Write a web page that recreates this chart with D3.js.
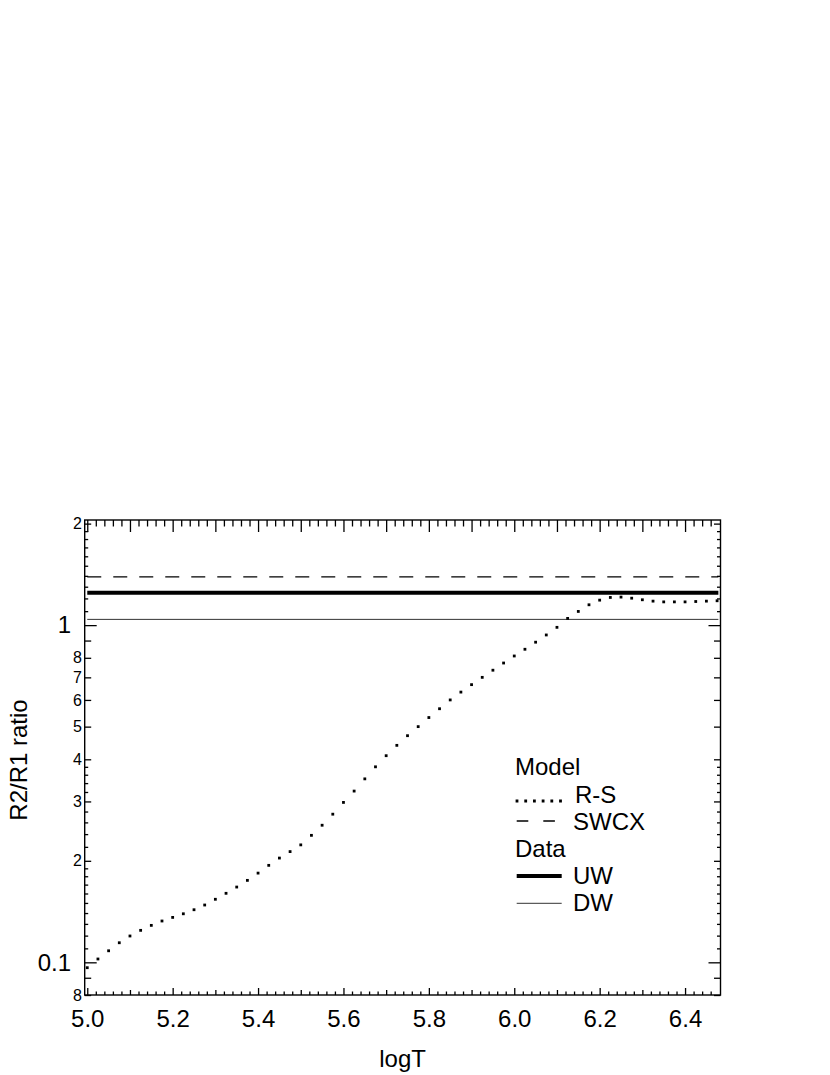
<!DOCTYPE html>
<html>
<head>
<meta charset="utf-8">
<script src="https://cdn.jsdelivr.net/npm/d3@7"></script>
<style>
  html, body { margin: 0; padding: 0; background: #fff; }
  svg { display: block; font-family: "Liberation Sans", Arial, Helvetica, sans-serif; }
</style>
</head>
<body>
<svg id="chart" width="830" height="1075"></svg>
<script>
// ---------------- data ----------------
const logT = [5.000, 5.025, 5.050, 5.075, 5.100, 5.125, 5.150, 5.175, 5.200, 5.225,
              5.250, 5.275, 5.300, 5.325, 5.350, 5.375, 5.400, 5.425, 5.450, 5.475,
              5.500, 5.525, 5.550, 5.575, 5.600, 5.625, 5.650, 5.675, 5.700, 5.725,
              5.750, 5.775, 5.800, 5.825, 5.850, 5.875, 5.900, 5.925, 5.950, 5.975,
              6.000, 6.025, 6.050, 6.075, 6.100, 6.125, 6.150, 6.175, 6.200, 6.225,
              6.250, 6.275, 6.300, 6.325, 6.350, 6.375, 6.400, 6.425, 6.450, 6.475];
const rsRatio = [0.0964, 0.1023, 0.1082, 0.1143, 0.1197, 0.1244, 0.1287, 0.1326, 0.1359, 0.1393,
                 0.1432, 0.1479, 0.1538, 0.1602, 0.1672, 0.1750, 0.1839, 0.1939, 0.2038, 0.213,
                 0.223, 0.238, 0.255, 0.275, 0.298, 0.322, 0.350, 0.380, 0.410, 0.440,
                 0.470, 0.500, 0.532, 0.565, 0.600, 0.633, 0.666, 0.700, 0.735, 0.772,
                 0.810, 0.848, 0.890, 0.935, 0.985, 1.047, 1.098, 1.149, 1.186, 1.208,
                 1.211, 1.202, 1.189, 1.178, 1.172, 1.172, 1.172, 1.175, 1.178, 1.181];
const swcxRatio = 1.39;   // Model SWCX (constant)
const uwRatio = 1.247;    // Data UW
const dwRatio = 1.04;     // Data DW
const lineSpan = [5.0, 6.478];

const xMajorTicks = [5.0, 5.2, 5.4, 5.6, 5.8, 6.0, 6.2, 6.4];
const xMajorLabels = ["5.0", "5.2", "5.4", "5.6", "5.8", "6.0", "6.2", "6.4"];
const xMidTicks = [5.1, 5.3, 5.5, 5.7, 5.9, 6.1, 6.3];
const xMinorTicks = [5.02, 5.04, 5.06, 5.08, 5.12, 5.14, 5.16, 5.18, 5.22, 5.24, 5.26, 5.28,
                     5.32, 5.34, 5.36, 5.38, 5.42, 5.44, 5.46, 5.48, 5.52, 5.54, 5.56, 5.58,
                     5.62, 5.64, 5.66, 5.68, 5.72, 5.74, 5.76, 5.78, 5.82, 5.84, 5.86, 5.88,
                     5.92, 5.94, 5.96, 5.98, 6.02, 6.04, 6.06, 6.08, 6.12, 6.14, 6.16, 6.18,
                     6.22, 6.24, 6.26, 6.28, 6.32, 6.34, 6.36, 6.38, 6.42, 6.44, 6.46];

const yBigTicks = [0.1, 1];
const yBigLabels = ["0.1", "1"];
const ySmallTicks = [0.08, 0.2, 0.3, 0.4, 0.5, 0.6, 0.7, 0.8, 2];
const ySmallLabels = ["8", "2", "3", "4", "5", "6", "7", "8", "2"];
const yMidTicks = [0.09, 0.9];
const yMinorTicks = [0.11, 0.12, 0.13, 0.14, 0.15, 0.16, 0.17, 0.18, 0.19,
                     0.22, 0.24, 0.26, 0.28, 0.32, 0.34, 0.36, 0.38,
                     1.1, 1.2, 1.3, 1.4, 1.5, 1.6, 1.7, 1.8, 1.9];

const legendHeaders = ["Model", "Data"];
const legendLabels = ["R-S", "SWCX", "UW", "DW"];

// ---------------- chart ----------------
const svg = d3.select("#chart");
const L = 84.7, R = 720.5, T = 520, B = 995;
const x = d3.scaleLinear().domain([4.994, 6.483]).range([L, R]);
const y = d3.scaleLog().domain([0.08, 2.05]).range([B, T]);

function addAxis(gen, tx, ty, fontSize) {
  const g = svg.append("g").attr("transform", `translate(${tx},${ty})`).call(gen);
  g.select(".domain").remove();
  g.selectAll(".tick line").attr("stroke", "#000").attr("stroke-width", 1.3);
  g.selectAll("text").attr("fill", "#000").attr("font-size", fontSize || 16)
    .attr("font-family", "Liberation Sans, Arial, sans-serif");
  return g;
}

// bottom axis (ticks pointing up)
addAxis(d3.axisBottom(x).tickValues(xMinorTicks).tickSizeInner(-3.5).tickSizeOuter(0).tickFormat(""), 0, B);
addAxis(d3.axisBottom(x).tickValues(xMidTicks).tickSizeInner(-5).tickSizeOuter(0).tickFormat(""), 0, B);
addAxis(d3.axisBottom(x).tickValues(xMajorTicks).tickSizeInner(-7).tickSizeOuter(0).tickPadding(15)
  .tickFormat((d, i) => xMajorLabels[i]), 0, B, 24);
// top axis (ticks pointing down)
addAxis(d3.axisTop(x).tickValues(xMinorTicks).tickSizeInner(-6.5).tickSizeOuter(0).tickFormat(""), 0, T);
addAxis(d3.axisTop(x).tickValues(xMidTicks.concat(xMajorTicks)).tickSizeInner(-12).tickSizeOuter(0).tickFormat(""), 0, T);

// left axis (ticks pointing right)
addAxis(d3.axisLeft(y).tickValues(yMinorTicks).tickSizeInner(-3.5).tickSizeOuter(0).tickFormat(""), L, 0);
addAxis(d3.axisLeft(y).tickValues(yMidTicks).tickSizeInner(-6.5).tickSizeOuter(0).tickFormat(""), L, 0);
addAxis(d3.axisLeft(y).tickValues(ySmallTicks).tickSizeInner(-6.5).tickSizeOuter(0).tickPadding(2.7)
  .tickFormat((d, i) => ySmallLabels[i]), L, 0, 16);
addAxis(d3.axisLeft(y).tickValues(yBigTicks).tickSizeInner(-12).tickSizeOuter(0).tickPadding(13.7)
  .tickFormat((d, i) => yBigLabels[i]), L, 0, 24);
// right axis (ticks pointing left)
addAxis(d3.axisRight(y).tickValues(yMinorTicks).tickSizeInner(-3.5).tickSizeOuter(0).tickFormat(""), R, 0);
addAxis(d3.axisRight(y).tickValues(yMidTicks.concat(ySmallTicks)).tickSizeInner(-6.5).tickSizeOuter(0).tickFormat(""), R, 0);
addAxis(d3.axisRight(y).tickValues(yBigTicks).tickSizeInner(-12).tickSizeOuter(0).tickFormat(""), R, 0);

// frame
svg.append("rect").attr("x", L).attr("y", T).attr("width", R - L).attr("height", B - T)
  .attr("fill", "none").attr("stroke", "#000").attr("stroke-width", 1.4);

// horizontal reference lines
function hline(val, width, dash, color) {
  svg.append("line")
    .attr("x1", x(lineSpan[0])).attr("x2", x(lineSpan[1]))
    .attr("y1", y(val)).attr("y2", y(val))
    .attr("stroke", color).attr("stroke-width", width)
    .attr("stroke-dasharray", dash);
}
hline(swcxRatio, 1.3, "14,12", "#000");
hline(uwRatio, 4, null, "#000");
hline(dwRatio, 1, null, "#333");

// R-S model (dotted markers at each sample)
svg.append("g").selectAll("rect").data(logT).join("rect")
  .attr("x", (d) => x(d) - 1.4)
  .attr("y", (d, i) => y(rsRatio[i]) - 1.4)
  .attr("width", 2.8).attr("height", 2.8).attr("fill", "#000");

// axis titles
svg.append("text").attr("x", (L + R) / 2).attr("y", 1067).attr("text-anchor", "middle")
  .attr("font-size", 24).text("logT");
svg.append("text").attr("transform", "translate(27,760) rotate(-90)").attr("text-anchor", "middle")
  .attr("font-size", 24).text("R2/R1 ratio");

// legend
const lg = svg.append("g").attr("font-size", 24);
lg.append("text").attr("x", 515).attr("y", 774.5).text(legendHeaders[0]);
lg.append("line").attr("x1", 515.6).attr("x2", 562).attr("y1", 801).attr("y2", 801)
  .attr("stroke", "#000").attr("stroke-width", 2.8).attr("stroke-dasharray", "2.8,5.9");
lg.append("text").attr("x", 575).attr("y", 803).text(legendLabels[0]);
lg.append("line").attr("x1", 516.7).attr("x2", 555).attr("y1", 821).attr("y2", 821)
  .attr("stroke", "#000").attr("stroke-width", 1.3).attr("stroke-dasharray", "11.6,15");
lg.append("text").attr("x", 573).attr("y", 829.5).text(legendLabels[1]);
lg.append("text").attr("x", 515).attr("y", 857).text(legendHeaders[1]);
lg.append("line").attr("x1", 516.7).attr("x2", 561.7).attr("y1", 876).attr("y2", 876)
  .attr("stroke", "#000").attr("stroke-width", 4);
lg.append("text").attr("x", 573).attr("y", 883.5).text(legendLabels[2]);
lg.append("line").attr("x1", 516.7).attr("x2", 561.7).attr("y1", 903.3).attr("y2", 903.3)
  .attr("stroke", "#333").attr("stroke-width", 1);
lg.append("text").attr("x", 573).attr("y", 910.5).text(legendLabels[3]);
</script>
</body>
</html>
